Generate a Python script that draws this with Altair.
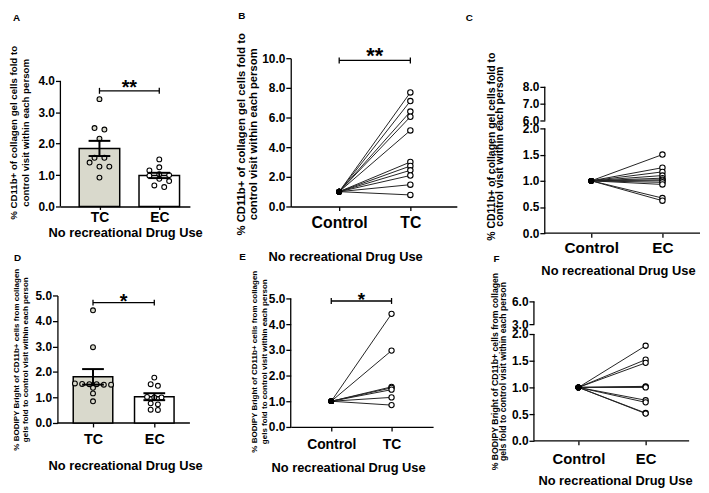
import altair as alt
import pandas as pd

FONT = "Liberation Sans"
INK = "#000000"
LINE_INK = "#222222"
TC_FILL = "#d9d9cc"

XTITLE = "No recreational Drug Use"
YT_CD11 = ["% CD11b+ of collagen gel cells fold to", "control visit within each persom"]
YT_BOD = ["% BODIPY Bright of CD11b+ cells from collagen", "gels fold to control visit within each person"]

# ---------------- data ----------------
a_groups = ["TC", "EC"]
a_tc = [3.42, 2.50, 2.45, 2.16, 1.55, 1.55, 1.40, 1.27, 1.27, 0.92]
a_ec = [1.50, 1.25, 1.15, 1.03, 1.00, 0.98, 0.88, 0.81, 0.67, 0.62]
a_sig = ["**"]
a_sig_y = [3.685]

b_groups = ["Control", "TC"]
b_control = [1.0]
b_tc = [7.69, 7.11, 6.40, 6.05, 5.13, 3.00, 2.73, 2.44, 2.09, 1.47, 0.78]
b_sig = ["**"]
b_sig_y = [9.85]

c_groups = ["Control", "EC"]
c_control = [1.0]
c_ec = [1.50, 1.25, 1.17, 1.10, 1.05, 1.02, 1.00, 0.97, 0.93, 0.67, 0.62]

d_groups = ["TC", "EC"]
d_tc = [4.42, 2.97, 1.55, 1.53, 1.52, 1.52, 1.50, 1.50, 1.38, 1.16, 0.85]
d_ec = [1.78, 1.52, 1.46, 1.02, 1.00, 1.00, 0.77, 0.73, 0.52, 0.51]
d_sig = ["*"]
d_sig_y = [4.72]

e_groups = ["Control", "TC"]
e_control = [1.0]
e_tc = [4.40, 2.97, 1.56, 1.52, 1.45, 1.15, 0.85]
e_sig = ["*"]
e_sig_y = [4.90]

f_groups = ["Control", "EC"]
f_control = [1.0]
f_ec = [1.78, 1.52, 1.46, 1.02, 1.01, 1.00, 0.76, 0.72, 0.52, 0.51]


# ---------------- helpers ----------------
def x_axis(groups, label_size, tick, lpad, tpad, title_x=None, domain=True):
    kw = dict(
        values=[0, 1],
        labelExpr=f"datum.value == 0 ? '{groups[0]}' : '{groups[1]}'",
        title=XTITLE, titleFont=FONT, titleFontSize=13, titleFontWeight="bold",
        titleColor=INK, titlePadding=tpad,
        labelFont=FONT, labelFontSize=label_size, labelFontWeight="bold",
        labelColor=INK, labelPadding=lpad, labelFlush=False, labelOverlap=False,
        tickSize=tick, tickColor=INK, tickWidth=1.3,
        domain=domain, domainColor=INK, domainWidth=1.3, grid=False,
    )
    if title_x is not None:
        kw["titleX"] = title_x
    return alt.Axis(**kw)


def y_axis(values, title, tsize, lh, tx, ty, offset=0, domain=False):
    return alt.Axis(
        values=values, format=".1f",
        title=title, titleFont=FONT, titleFontSize=tsize, titleFontWeight="bold",
        titleColor=INK, titleAngle=270, titleAlign="center", titleBaseline="middle",
        titleLineHeight=lh, titleX=tx, titleY=ty,
        labelFont=FONT, labelFontSize=12, labelFontWeight="bold", labelColor=INK,
        labelPadding=1, labelFlush=False, labelOverlap=False,
        tickSize=5, tickColor=INK, tickWidth=1.3,
        domain=domain, domainColor=INK, domainWidth=1.3, grid=False, offset=offset,
    )


def make_enc(xs, ys, xax, yax):
    def X(f):
        return alt.X(f, scale=xs, axis=xax)

    def Y(f):
        return alt.Y(f, scale=ys, axis=yax)
    return X, Y


def frame_layers(X, Y, xline, ysegs, xrule=None):
    layers = []
    if ysegs:
        seg = pd.DataFrame({"xa": [xline] * len(ysegs),
                            "y0": [s[0] for s in ysegs],
                            "y1": [s[1] for s in ysegs]})
        layers.append(alt.Chart(seg).mark_rule(color=INK, strokeWidth=1.3).encode(
            x=X("xa:Q"), y=Y("y0:Q"), y2="y1:Q"))
    if xrule is not None:
        xr = pd.DataFrame({"x0": [xrule[0]], "x1": [xrule[1]], "yb": [0.0]})
        layers.append(alt.Chart(xr).mark_rule(color=INK, strokeWidth=1.3).encode(
            x=X("x0:Q"), x2="x1:Q", y=Y("yb:Q")))
    return layers


def sig_layers(X, Y, sym, sy, fs, dy):
    sdf = pd.DataFrame({"x1": [0], "x2": [1], "y": sy, "t": sym})
    rule = alt.Chart(sdf).mark_rule(color=INK, strokeWidth=1.3).encode(
        x=X("x1:Q"), x2="x2:Q", y=Y("y:Q"))
    caps = alt.Chart(sdf).transform_fold(["x1", "x2"], as_=["end", "xe"]).mark_tick(
        orient="vertical", size=6, thickness=1.3, color=INK, opacity=1).encode(
        x=X("xe:Q"), y=Y("y:Q"))
    txt = alt.Chart(sdf).transform_calculate(xm="(datum.x1 + datum.x2) / 2").mark_text(
        font=FONT, fontSize=fs, fontWeight="bold", baseline="alphabetic", dy=dy,
        color=INK).encode(x=X("xm:Q"), y=Y("y:Q"), text="t:N")
    return [rule, caps, txt]


def bar_layers(X, Y, groups, v0, v1, bar_w, step):
    df = pd.DataFrame({
        "g": [0] * len(v0) + [1] * len(v1),
        "grp": [groups[0]] * len(v0) + [groups[1]] * len(v1),
        "v": v0 + v1,
    })
    base = alt.Chart(df)
    bars = base.mark_bar(width=bar_w, stroke=INK, strokeWidth=1.5).encode(
        x=X("g:Q"), y=Y("mean(v):Q"),
        fill=alt.Fill("grp:N", scale=alt.Scale(domain=groups, range=[TC_FILL, "#ffffff"]),
                      legend=None))
    pts = base.transform_calculate(bk="floor(datum.v / 0.2)").transform_window(
        r="row_number()", groupby=["g", "bk"]).transform_joinaggregate(
        n="count()", groupby=["g", "bk"]).transform_calculate(
        xj=f"datum.g + (datum.r - (datum.n + 1) / 2) * {step}").mark_circle(
        size=24, stroke=INK, strokeWidth=1.1, opacity=1).encode(
        x=X("xj:Q"), y=Y("v:Q"),
        fill=alt.Fill("grp:N", scale=alt.Scale(domain=groups, range=["#ffffff", INK]),
                      legend=None))
    eb = base.transform_aggregate(m="mean(v)", s="stderr(v)", groupby=["g"]).transform_calculate(
        lo="datum.m - datum.s", hi="datum.m + datum.s")
    ebar = eb.mark_rule(color=INK, strokeWidth=2).encode(x=X("g:Q"), y=Y("lo:Q"), y2="hi:Q")
    cap_lo = eb.mark_tick(orient="horizontal", size=22, thickness=2, color=INK, opacity=1).encode(
        x=X("g:Q"), y=Y("lo:Q"))
    cap_hi = eb.mark_tick(orient="horizontal", size=22, thickness=2, color=INK, opacity=1).encode(
        x=X("g:Q"), y=Y("hi:Q"))
    return [bars, pts, ebar, cap_lo, cap_hi]


def pair_layers(X, Y, control, vals, psize):
    rows = []
    for i, v in enumerate(vals):
        rows.append({"sid": i, "g": 0, "v": control[0]})
        rows.append({"sid": i, "g": 1, "v": v})
    df = pd.DataFrame(rows)
    lines = alt.Chart(df).mark_line(color=LINE_INK, strokeWidth=1).encode(
        x=X("g:Q"), y=Y("v:Q"), detail="sid:N")
    opn = alt.Chart(df).transform_filter("datum.g == 1").mark_circle(
        size=psize, fill="#ffffff", stroke=INK, strokeWidth=1.1, opacity=1).encode(
        x=X("g:Q"), y=Y("v:Q"))
    ctl = alt.Chart(df).transform_filter("datum.g == 0").mark_circle(
        size=34, color=INK, opacity=1).encode(x=X("g:Q"), y=Y("v:Q"))
    return [lines, opn, ctl]


def panel_title(letter, dx, offset):
    return alt.TitleParams(text=letter, anchor="start", frame="group", dx=dx, offset=offset,
                           fontSize=10, font=FONT, fontWeight="bold", color=INK)


# ---------------- panel A ----------------
xsA = alt.Scale(domain=[-0.653, 1.512], nice=False, zero=False, padding=0)
ysA = alt.Scale(domain=[0, 4.724], nice=False, zero=False)
XA, YA = make_enc(xsA, ysA, x_axis(a_groups, 14, 3, 1, 2),
                  y_axis([0, 1, 2, 3, 4], YT_CD11, 9.8, 12, -47, 75))
panelA = alt.layer(
    *frame_layers(XA, YA, -0.653, [(0, 4)]),
    *bar_layers(XA, YA, a_groups, a_tc, a_ec, 41, 0.165),
    *sig_layers(XA, YA, a_sig, a_sig_y, 20, 3),
).properties(width=131, height=150, title=panel_title("A", -48, 23))

# ---------------- panel B ----------------
xsB = alt.Scale(domain=[-0.681, 1.653], nice=False, zero=False)
ysB = alt.Scale(domain=[0, 10], nice=False, zero=False)
XB, YB = make_enc(xsB, ysB, x_axis(b_groups, 16, 4, 4, 21, title_x=55),
                  y_axis([0, 2, 4, 6, 8, 10], YT_CD11, 11.4, 12, -50, 76.5, domain=True))
panelB = alt.layer(
    *pair_layers(XB, YB, b_control, b_tc, 30),
    *sig_layers(XB, YB, b_sig, b_sig_y, 22, 3),
).properties(width=168, height=150, title=panel_title("B", -53, 12))

# ---------------- panel C ----------------
xsC = alt.Scale(domain=[-0.472, 1.528], nice=False, zero=False)
ysC = alt.Scale(domain=[0, 2, 6, 8, 9.7], range=[177, 71, 63, 29, 0], nice=False, zero=False)
XC, YC = make_enc(xsC, ysC, x_axis(c_groups, 15.5, 4, 4, 8, title_x=61, domain=False),
                  y_axis([0, 0.5, 1, 1.5, 2, 6, 7, 8], YT_CD11, 10.6, 8.5, -54, 89, offset=13))
panelC = alt.layer(
    *frame_layers(XC, YC, -0.653, [(0, 2), (6, 8)], xrule=(-0.653, 1.528)),
    *pair_layers(XC, YC, c_control, c_ec, 30),
).properties(width=144, height=177, title=panel_title("C", -93, 29))

# ---------------- panel D ----------------
xsD = alt.Scale(domain=[-0.532, 1.581], nice=False, zero=False, padding=0)
ysD = alt.Scale(domain=[0, 5], nice=False, zero=False)
XD, YD = make_enc(xsD, ysD, x_axis(d_groups, 14.5, 4, 6, 14, domain=False),
                  y_axis([0, 1, 2, 3, 4, 5], YT_BOD, 8.1, 9, -41, 64.5, offset=3, domain=True))
panelD = alt.layer(
    *frame_layers(XD, YD, -0.58, [], xrule=(-0.58, 1.581)),
    *bar_layers(XD, YD, d_groups, d_tc, d_ec, 40, 0.118),
    *sig_layers(XD, YD, d_sig, d_sig_y, 20, 5),
).properties(width=131, height=129, title=panel_title("D", -47, 5))

# ---------------- panel E ----------------
xsE = alt.Scale(domain=[-0.672, 1.689], nice=False, zero=False)
ysE = alt.Scale(domain=[0, 5.115], nice=False, zero=False)
XE, YE = make_enc(xsE, ysE, x_axis(e_groups, 14, 4, 7, 10, title_x=58),
                  y_axis([0, 1, 2, 3, 4, 5], YT_BOD, 8.1, 9.3, -36.3, 66.5))
panelE = alt.layer(
    *frame_layers(XE, YE, -0.672, [(0, 5)]),
    *pair_layers(XE, YE, e_control, e_tc, 28),
    *sig_layers(XE, YE, e_sig, e_sig_y, 19, 5),
).properties(width=144, height=133, title=panel_title("E", -52, 8))

# ---------------- panel F ----------------
xsF = alt.Scale(domain=[-0.309, 1.647], nice=False, zero=False)
ysF = alt.Scale(domain=[0, 2, 3, 6, 6.78], range=[147, 39, 29, 6, 0], nice=False, zero=False)
XF, YF = make_enc(xsF, ysF, x_axis(f_groups, 15, 4, 7, 8, title_x=58, domain=False),
                  y_axis([0, 0.5, 1, 1.5, 2, 3, 6], YT_BOD, 8.8, 8.5, -40.3, 76.5, offset=24))
panelF = alt.layer(
    *frame_layers(XF, YF, -0.662, [(0, 2), (3, 6)], xrule=(-0.662, 1.647)),
    *pair_layers(XF, YF, f_control, f_ec, 28),
).properties(width=133, height=147, title=panel_title("F", -65, 8))

chart = alt.concat(
    panelA, panelB, panelC, panelD, panelE, panelF,
    columns=3,
    spacing={"row": 63, "column": 102},
    align={"row": "each", "column": "each"},
    bounds="flush",
).properties(padding=0).configure_view(strokeWidth=0)

chart.save("out.html", embed_options={"renderer": "svg", "actions": False})
